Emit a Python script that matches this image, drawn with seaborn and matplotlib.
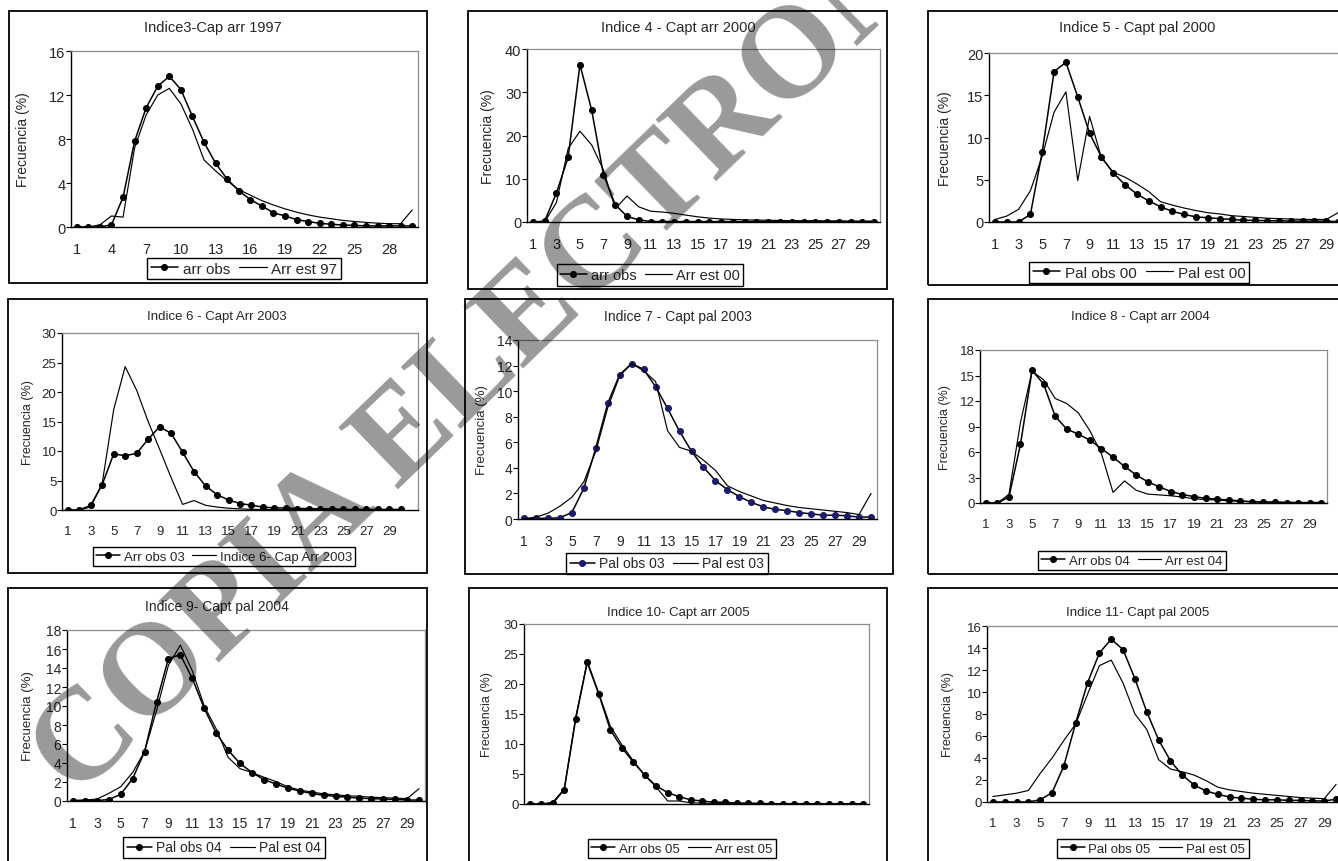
import numpy as np
import matplotlib
matplotlib.use("Agg")
import matplotlib.pyplot as plt
from matplotlib.patches import Rectangle
import seaborn as sns

# Clases de talla (eje x) y frecuencias
clases = list(range(1, 31))

titles = ["Indice3-Cap arr 1997", "Indice 4 - Capt arr 2000", "Indice 5 - Capt pal 2000",
          "Indice 6 - Capt Arr 2003", "Indice 7 - Capt pal 2003", "Indice 8 - Capt arr 2004",
          "Indice 9- Capt pal 2004", "Indice 10- Capt arr 2005", "Indice 11- Capt pal 2005"]
obs_labels = ["arr obs", "arr obs", "Pal obs 00", "Arr obs 03", "Pal obs 03",
              "Arr obs 04", "Pal obs 04", "Arr obs 05", "Pal obs 05"]
est_labels = ["Arr est 97", "Arr est 00", "Pal est 00", "Indice 6- Cap Arr 2003", "Pal est 03",
              "Arr est 04", "Pal est 04", "Arr est 05", "Pal est 05"]
y_max = [16, 40, 20, 30, 14, 18, 18, 30, 16]
y_step = [4, 10, 5, 5, 2, 3, 2, 5, 2]

obs3 = [0, 0, 0, 0.2, 2.7, 7.8, 10.85, 12.8, 13.7, 12.5, 10.05, 7.7, 5.8, 4.35, 3.3,
        2.5, 1.9, 1.3, 1.0, 0.67, 0.5, 0.33, 0.25, 0.18, 0.15, 0.1, 0.1, 0.1, 0.1, 0.1]
est3 = [0, 0, 0.2, 1.0, 0.9, 7.2, 10.2, 12.0, 12.6, 11.2, 8.9, 6.1, 5.1, 4.2, 3.4,
        2.9, 2.4, 2.0, 1.65, 1.35, 1.1, 0.9, 0.75, 0.6, 0.5, 0.42, 0.35, 0.3, 0.3, 1.55]

obs4 = [0, 0.2, 6.7, 15.0, 36.4, 25.8, 10.9, 4.0, 1.3, 0.5, 0.1, 0.1, 0.1, 0.1, 0.1,
        0.1, 0.1, 0.1, 0.1, 0.1, 0.1, 0.1, 0.1, 0.1, 0.1, 0.1, 0.1, 0.1, 0.1, 0.1]
est4 = [0, 0, 4.5, 17.0, 21.0, 17.8, 12.0, 3.1, 6.0, 3.5, 2.5, 2.3, 2.0, 1.6, 1.2,
        0.9, 0.7, 0.6, 0.5, 0.45, 0.4, 0.35, 0.3, 0.3, 0.3, 0.25, 0.25, 0.2, 0.2, 0.2]

obs5 = [0, 0, 0, 0.9, 8.3, 17.8, 18.9, 14.8, 10.5, 7.7, 5.8, 4.4, 3.3, 2.5, 1.8,
        1.25, 0.9, 0.6, 0.5, 0.4, 0.3, 0.2, 0.2, 0.15, 0.15, 0.1, 0.1, 0.1, 0.1, 0.05]
est5 = [0.3, 0.7, 1.5, 3.7, 7.8, 13.0, 15.4, 4.9, 12.5, 7.6, 5.9, 5.3, 4.5, 3.6, 2.4,
        2.0, 1.65, 1.35, 1.1, 0.95, 0.75, 0.65, 0.55, 0.45, 0.4, 0.35, 0.3, 0.3, 0.3, 1.1]

obs6 = [0, 0, 0.8, 4.3, 9.5, 9.2, 9.6, 12.0, 14.1, 13.0, 9.8, 6.5, 4.1, 2.6, 1.7,
        1.1, 0.8, 0.5, 0.35, 0.35, 0.25, 0.25, 0.2, 0.2, 0.1, 0.1, 0.1, 0.1, 0.1, 0.1]
est6 = [0, 0, 0.5, 4.5, 17.0, 24.3, 20.3, 15.0, 10.3, 5.5, 0.95, 1.6, 0.8, 0.5, 0.3,
        0.2, 0.1, 0.1, 0.08, 0.05, 0.05, 0.05, 0.05, 0.05, 0.05, 0.05, 0.05, 0.05, 0.05, 0.05]

obs7 = [0.05, 0.05, 0.05, 0.1, 0.5, 2.4, 5.55, 9.05, 11.3, 12.15, 11.7, 10.35, 8.65, 6.85, 5.3,
        4.05, 3.0, 2.3, 1.75, 1.3, 0.95, 0.75, 0.65, 0.5, 0.4, 0.3, 0.3, 0.25, 0.15, 0.15]
est7 = [0.0, 0.15, 0.45, 1.0, 1.7, 2.9, 5.3, 8.7, 11.2, 12.15, 11.6, 10.75, 6.9, 5.6, 5.3,
        4.6, 3.8, 2.6, 2.15, 1.8, 1.45, 1.25, 1.05, 0.9, 0.8, 0.7, 0.6, 0.5, 0.35, 2.0]

obs8 = [0, 0, 0.7, 6.9, 15.6, 14.0, 10.2, 8.7, 8.1, 7.4, 6.4, 5.4, 4.3, 3.3, 2.5,
        1.9, 1.35, 1.0, 0.75, 0.55, 0.45, 0.35, 0.25, 0.15, 0.12, 0.1, 0.05, 0.05, 0.05, 0.05]
est8 = [0, 0, 1.0, 9.5, 15.5, 14.5, 12.3, 11.7, 10.6, 8.5, 5.8, 1.25, 2.6, 1.5, 1.05,
        0.95, 0.85, 0.7, 0.5, 0.4, 0.35, 0.25, 0.2, 0.15, 0.12, 0.1, 0.08, 0.06, 0.05, 0.05]

obs9 = [0.05, 0.05, 0.05, 0.15, 0.7, 2.35, 5.2, 10.4, 15.0, 15.4, 12.9, 9.75, 7.15, 5.35, 3.95,
        3.0, 2.25, 1.8, 1.35, 1.05, 0.8, 0.6, 0.5, 0.4, 0.3, 0.25, 0.2, 0.18, 0.1, 0.1]
est9 = [0.05, 0.1, 0.2, 0.8, 1.5, 3.0, 5.2, 9.5, 14.3, 16.4, 13.7, 10.0, 7.6, 4.6, 3.4,
        3.0, 2.5, 2.05, 1.5, 1.15, 0.95, 0.75, 0.65, 0.55, 0.5, 0.4, 0.35, 0.3, 0.25, 1.3]

obs10 = [0, 0, 0.1, 2.4, 14.2, 23.6, 18.3, 12.4, 9.4, 7.0, 4.8, 3.0, 1.9, 1.2, 0.7,
         0.5, 0.3, 0.3, 0.15, 0.15, 0.1, 0.05, 0.05, 0.05, 0.05, 0.05, 0.05, 0.05, 0.05, 0.05]
est10 = [0, 0, 0.3, 2.5, 14.5, 23.8, 18.5, 13.0, 9.9, 7.2, 4.8, 2.8, 0.5, 0.5, 0.2,
         0.15, 0.1, 0.05, 0.05, 0.05, 0.05, 0.05, 0.05, 0.05, 0.05, 0.05, 0.05, 0.05, 0.05, 0.05]

obs11 = [0, 0, 0, 0, 0.2, 0.85, 3.3, 7.2, 10.85, 13.55, 14.8, 13.85, 11.2, 8.2, 5.65,
         3.75, 2.45, 1.55, 1.0, 0.7, 0.45, 0.35, 0.25, 0.2, 0.2, 0.15, 0.15, 0.1, 0.1, 0.25]
est11 = [0.5, 0.65, 0.8, 1.05, 2.6, 4.0, 5.6, 7.1, 9.8, 12.4, 12.9, 10.8, 8.0, 6.6, 3.85,
         3.0, 2.75, 2.45, 1.95, 1.35, 1.1, 0.95, 0.8, 0.7, 0.6, 0.5, 0.4, 0.35, 0.3, 1.6]

obs_series = [obs3, obs4, obs5, obs6, obs7, obs8, obs9, obs10, obs11]
est_series = [est3, est4, est5, est6, est7, est8, est9, est10, est11]

# Layout in pixels: plot area (l, t, r, b), outer box, title, legend centre, ylabel x
W, H = 1338, 862
layout = [
    dict(ax=(71, 52, 418, 228), box=(9, 12, 427, 284), title=(213, 28), leg=(244, 269.5), ylab=23, fs=10.5, lfs=11, step=3, shift=0, ncat=30, mfc="black"),
    dict(ax=(527, 50, 880, 223), box=(468, 12, 887, 290), title=(678, 28), leg=(650, 276), ylab=488, fs=10.5, lfs=10.5, step=2, shift=0, ncat=30, mfc="black"),
    dict(ax=(989, 54, 1344, 223), box=(928, 12, 1348, 286), title=(1137, 28), leg=(1139, 273.5), ylab=945, fs=10.5, lfs=11, step=2, shift=0, ncat=30, mfc="black"),
    dict(ax=(62, 334, 418, 511), box=(8, 300, 427, 574), title=(217, 317), leg=(224, 557.5), ylab=28, fs=9.5, lfs=9.5, step=2, shift=0, ncat=31, mfc="black"),
    dict(ax=(518, 341, 877, 520), box=(465, 300, 893, 575), title=(678, 317), leg=(667, 564.5), ylab=482, fs=10, lfs=10, step=2, shift=0, ncat=30, mfc="#1c1c6e"),
    dict(ax=(980, 351, 1327, 504), box=(928, 300, 1348, 575), title=(1140, 317), leg=(1132, 561.5), ylab=945, fs=9.5, lfs=9.5, step=2, shift=0, ncat=30, mfc="black"),
    dict(ax=(67, 631, 425, 802), box=(8, 589, 427, 875), title=(217, 607), leg=(224, 848.5), ylab=28, fs=10, lfs=10, step=2, shift=0, ncat=30, mfc="black"),
    dict(ax=(524, 625, 869, 805), box=(469, 589, 887, 875), title=(678, 613), leg=(682, 849.5), ylab=487, fs=9.5, lfs=9.5, step=2, shift=0.5, ncat=30, mfc="black"),
    dict(ax=(987, 627, 1342, 803), box=(928, 589, 1348, 875), title=(1138, 613), leg=(1153, 849.5), ylab=948, fs=9.5, lfs=9.5, step=2, shift=0, ncat=30, mfc="black"),
]

sns.set_theme(style="white")
plt.rcParams['font.family'] = ['Liberation Sans', 'DejaVu Sans']

fig = plt.figure(figsize=(W / 100, H / 100), dpi=100)
fig.patch.set_facecolor("white")


def fx(px):
    return px / W


def fy(py):
    return 1 - py / H


for i, lay in enumerate(layout):
    l, t, r, b = lay["ax"]
    fs = lay["fs"]
    ax = fig.add_axes([fx(l), fy(b), (r - l) / W, (b - t) / H])
    ax.set_facecolor("white")

    sns.lineplot(x=clases, y=obs_series[i], ax=ax, color="black", linewidth=1.1,
                 marker="o", markersize=4.3, markerfacecolor=lay["mfc"],
                 markeredgecolor=lay["mfc"], label=obs_labels[i])
    sns.lineplot(x=clases, y=est_series[i], ax=ax, color="black", linewidth=0.85,
                 label=est_labels[i])

    ax.set_xlim(0.5, lay["ncat"] + 0.5)
    ax.set_ylim(0, y_max[i])
    ax.set_yticks(np.arange(0, y_max[i] + 0.01, y_step[i]))
    ax.set_xlabel("")
    ax.set_ylabel("")

    # category boundaries carry the tick marks, labels sit on the minor ticks
    ax.set_xticks(np.arange(0.5, lay["ncat"] + 1, 1))
    ax.set_xticklabels([])
    lab_vals = list(range(1, 30, lay["step"]))
    ax.set_xticks([v + lay["shift"] for v in lab_vals], minor=True)
    ax.set_xticklabels([str(v) for v in lab_vals], minor=True)
    ax.tick_params(axis="x", which="major", direction="inout", length=6, width=0.8, color="black")
    ax.tick_params(axis="x", which="minor", length=0, pad=10.5, labelsize=fs)
    ax.tick_params(axis="y", which="major", direction="out", length=3.5, width=0.8,
                   color="black", pad=0.5, labelsize=fs, left=True)

    for side in ["top", "right"]:
        ax.spines[side].set_color("#8c8c8c")
        ax.spines[side].set_linewidth(0.9)
    for side in ["left", "bottom"]:
        ax.spines[side].set_color("black")
        ax.spines[side].set_linewidth(1.0)

    leg = ax.legend(loc="center", bbox_to_anchor=(fx(lay["leg"][0]), fy(lay["leg"][1])),
                    bbox_transform=fig.transFigure, ncol=2, frameon=True, fancybox=False,
                    edgecolor="black", framealpha=1, fontsize=lay["lfs"], handlelength=1.8,
                    handletextpad=0.3, columnspacing=0.6, borderpad=0.25, borderaxespad=0)
    leg.get_frame().set_linewidth(1.0)

    fig.text(fx(lay["title"][0]), fy(lay["title"][1]), titles[i], ha="center", va="center",
             fontsize=fs)
    fig.text(fx(lay["ylab"]), fy((t + b) / 2), "Frecuencia (%)", rotation=90,
             ha="center", va="center", fontsize=fs - 0.5)

    bl, bt, br, bb = lay["box"]
    fig.add_artist(Rectangle((fx(bl), fy(bb)), (br - bl) / W, (bb - bt) / H,
                             transform=fig.transFigure, fill=False,
                             edgecolor="black", linewidth=1.3))

# marca de agua
fig.text(fx(564), fy(285), "COPIA ELECTRONICA", rotation=44, rotation_mode="anchor",
         ha="center", va="center", fontsize=94, fontfamily="Liberation Serif",
         fontweight="bold", color="black", alpha=0.4, zorder=10)

fig.savefig("out.png", dpi=100, facecolor="white")
